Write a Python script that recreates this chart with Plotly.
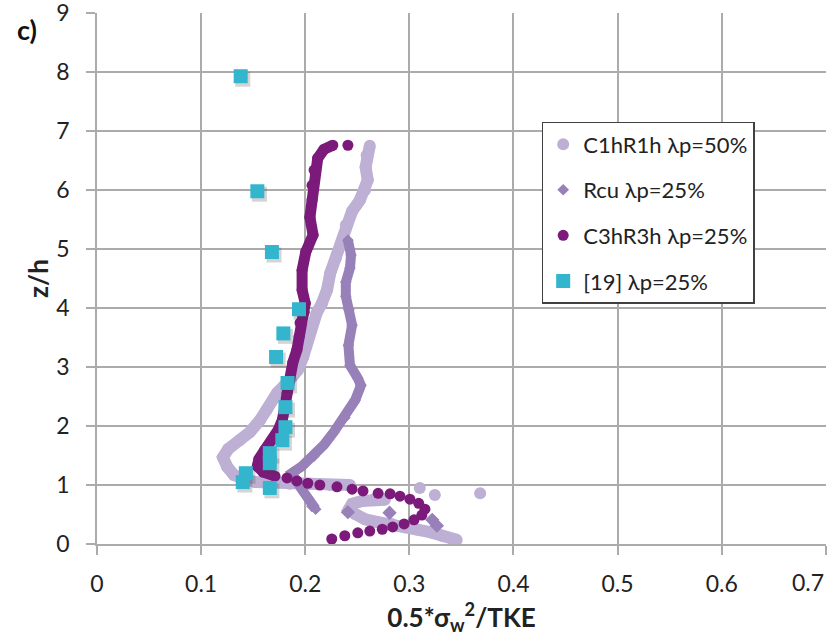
import plotly.graph_objects as go

# ---- C1hR1h, lambda_p = 50 % (light lavender) ----
c1_upper_x = [0.243, 0.224, 0.2045, 0.185, 0.166, 0.152, 0.142, 0.1315, 0.125, 0.121, 0.126,
              0.137, 0.147, 0.1565, 0.163, 0.173, 0.185, 0.193, 0.198, 0.2015, 0.2055, 0.211,
              0.216, 0.221, 0.224, 0.2295, 0.2355, 0.239, 0.245, 0.2525, 0.2575, 0.260, 0.258,
              0.259, 0.262]
c1_upper_z = [1.00, 1.00, 1.02, 1.02, 1.02, 1.05, 1.10, 1.17, 1.31, 1.47, 1.61,
              1.76, 1.90, 2.10, 2.27, 2.56, 2.78, 2.95, 3.17, 3.41, 3.63, 3.92,
              4.08, 4.31, 4.59, 4.85, 5.12, 5.41, 5.64, 5.83, 6.00, 6.17, 6.39,
              6.59, 6.75]
c1_lower_x = [0.2765, 0.265, 0.2545, 0.245, 0.242, 0.248, 0.2575, 0.270, 0.283, 0.296, 0.3085,
              0.320, 0.331, 0.341, 0.3455]
c1_lower_z = [0.75, 0.75, 0.73, 0.68, 0.59, 0.51, 0.42, 0.37, 0.34, 0.29, 0.24,
              0.20, 0.14, 0.085, 0.07]
c1_dots_x = [0.310, 0.3245, 0.368]
c1_dots_z = [0.95, 0.83, 0.86]

# ---- Rcu, lambda_p = 25 % (medium purple) ----
rcu_band_x = [0.241, 0.244, 0.243, 0.239, 0.239, 0.242, 0.245, 0.2415, 0.243, 0.2505, 0.2535,
              0.248, 0.238, 0.2275, 0.218, 0.2085, 0.197, 0.187, 0.191, 0.197, 0.2025,
              0.2065, 0.210]
rcu_band_z = [5.15, 4.90, 4.68, 4.44, 4.20, 3.97, 3.71, 3.37, 3.03, 2.81, 2.69,
              2.44, 2.14, 1.90, 1.68, 1.49, 1.32, 1.20, 1.05, 0.92, 0.78,
              0.64, 0.59]
rcu_dots_x = [0.241, 0.281, 0.322, 0.3265]
rcu_dots_z = [0.54, 0.53, 0.41, 0.31]

# ---- C3hR3h, lambda_p = 25 % (dark purple) ----
c3_band_x = [0.171, 0.1595, 0.154, 0.1555, 0.161, 0.168, 0.174, 0.178, 0.180, 0.1825, 0.1845,
             0.188, 0.192, 0.194, 0.195, 0.199, 0.200, 0.197, 0.197, 0.2005, 0.2075, 0.2045,
             0.2065, 0.2065, 0.2085, 0.212, 0.218, 0.2265]
c3_band_z = [1.15, 1.22, 1.32, 1.44, 1.59, 1.76, 1.93, 2.10, 2.32, 2.56, 2.78,
             3.07, 3.29, 3.51, 3.75, 3.93, 4.08, 4.31, 4.64, 4.95, 5.24, 5.54,
             5.83, 6.08, 6.34, 6.54, 6.69, 6.76]
c3_dots_x = [0.241, 0.1825, 0.192, 0.2025, 0.214, 0.2305, 0.245, 0.2555, 0.270, 0.2815, 0.291,
             0.3005, 0.309, 0.315, 0.312, 0.3045, 0.295, 0.284, 0.274, 0.262, 0.2505,
             0.238, 0.2255]
c3_dots_z = [6.76, 1.12, 1.07, 1.03, 1.00, 0.97, 0.93, 0.90, 0.86, 0.85, 0.81,
             0.76, 0.69, 0.59, 0.49, 0.41, 0.34, 0.29, 0.25, 0.22, 0.19,
             0.14, 0.085]

# ---- Reference [19], lambda_p = 25 % (cyan squares) ----
ref19_x = [0.138, 0.154, 0.168, 0.194, 0.179, 0.172, 0.183, 0.181, 0.181, 0.178, 0.166,
           0.166, 0.143, 0.140, 0.166]
ref19_z = [7.93, 5.98, 4.95, 3.98, 3.57, 3.17, 2.73, 2.32, 1.98, 1.76, 1.54,
           1.37, 1.20, 1.05, 0.95]

x_ticks = [0, 0.1, 0.2, 0.3, 0.4, 0.5, 0.6, 0.7]
x_tick_text = ["0", "0.1", "0.2", "0.3", "0.4", "0.5", "0.6", ""]
x_last_label = "0.7"   # drawn right-aligned at the axis end so it stays inside the page
z_ticks = list(range(0, 10))

COL_C1 = "#BDB0D4"
COL_RCU = "#9880B9"
COL_C3 = "#7C1A7C"
COL_REF = "#33B6CD"
COL_SHADOW = "rgba(60,60,60,0.22)"
FONT = "Lato"

# small drop-shadow offset for the square markers (data units, ~2 px right / 3 px down)
SHADOW_DX = 0.002
SHADOW_DZ = -0.05

fig = go.Figure()


def band(x, z, color, width, group):
    fig.add_trace(go.Scatter(x=x, y=z, mode="lines", legendgroup=group, showlegend=False,
                             line=dict(color=color, width=width), hoverinfo="skip"))


def dots(x, z, color, size, symbol, group, name=None):
    fig.add_trace(go.Scatter(x=x, y=z, mode="markers", legendgroup=group,
                             showlegend=name is not None, name=name,
                             marker=dict(color=color, size=size, symbol=symbol,
                                         line=dict(width=0))))


band(c1_upper_x, c1_upper_z, COL_C1, 12, "c1")
band(c1_lower_x, c1_lower_z, COL_C1, 12, "c1")
dots(c1_lower_x + c1_dots_x, c1_lower_z + c1_dots_z, COL_C1, 12, "circle", "c1")
dots(c1_upper_x, c1_upper_z, COL_C1, 12, "circle", "c1", "C1hR1h λp=50%")

band(rcu_band_x, rcu_band_z, COL_RCU, 10, "rcu")
dots(rcu_dots_x, rcu_dots_z, COL_RCU, 11, "diamond", "rcu")
dots(rcu_band_x, rcu_band_z, COL_RCU, 9, "diamond", "rcu", "Rcu λp=25%")

band(c3_band_x, c3_band_z, COL_C3, 11, "c3")
dots(c3_band_x, c3_band_z, COL_C3, 11, "circle", "c3")
dots(c3_dots_x, c3_dots_z, COL_C3, 11, "circle", "c3", "C3hR3h λp=25%")

dots([x + SHADOW_DX for x in ref19_x], [z + SHADOW_DZ for z in ref19_z],
     COL_SHADOW, 15, "square", "ref")
dots(ref19_x, ref19_z, COL_REF, 14, "square", "ref", "[19] λp=25%")

axis_common = dict(
    showgrid=True, gridcolor="#ABABAB", gridwidth=1.5,
    showline=True, linecolor="#ABABAB", linewidth=1.5,
    ticks="outside", ticklen=9, tickwidth=1.5, tickcolor="#ABABAB",
    tickfont=dict(family=FONT, size=23, color="#222222"),
    ticklabeloverflow="allow", automargin=False,
    zeroline=False, mirror=False,
)

fig.update_layout(
    width=834, height=644,
    margin=dict(l=97, r=8, t=13, b=100),
    paper_bgcolor="white", plot_bgcolor="white",
    font=dict(family=FONT, color="#222222"),
    xaxis=dict(range=[0, 0.7002], tickvals=x_ticks, ticktext=x_tick_text,
               ticklabelstandoff=10,
               title=dict(text="<b>0.5*σ<sub>w</sub><sup>2</sup>/TKE</b>",
                          font=dict(family=FONT, size=26), standoff=12),
               **axis_common),
    yaxis=dict(range=[0, 9.002], tickvals=z_ticks, ticklabelstandoff=12,
               title=dict(text="<b>z/h</b>", font=dict(family=FONT, size=26), standoff=0),
               **axis_common),
    legend=dict(x=0.61, y=0.795, xanchor="left", yanchor="top",
                bgcolor="white", bordercolor="#404040", borderwidth=1.5,
                font=dict(family=FONT, size=22, color="#222222"),
                itemsizing="trace", tracegroupgap=14, traceorder="grouped"),
    annotations=[
        dict(text="<b>c)</b>", xref="paper", yref="paper", x=-0.112, y=0.968,
             xanchor="left", yanchor="middle", showarrow=False,
             font=dict(family=FONT, size=27, color="#111111")),
        dict(text=x_last_label, xref="x", yref="paper", x=x_ticks[-1], y=-0.072,
             xanchor="right", yanchor="middle", showarrow=False,
             font=dict(family=FONT, size=23, color="#222222")),
    ],
)

fig.write_html("out.html")
